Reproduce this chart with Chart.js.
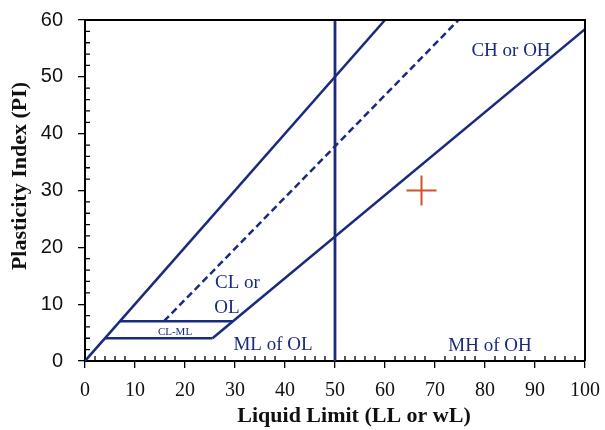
<!DOCTYPE html>
<html>
<head>
<meta charset="utf-8">
<script src="https://cdn.jsdelivr.net/npm/chart.js@4.4.1/dist/chart.umd.min.js"></script>
<style>
  html, body { margin: 0; padding: 0; background: #fff; }
  #wrap { width: 605px; height: 430px; }
</style>
</head>
<body>
<div id="wrap"><canvas id="plasticity-chart"></canvas></div>
<script>
// plasticity chart lines (LL on x, PI on y)
const upperLL = [0, 60];
const upperPI = [0, 60];
const uLineLL = [15.8, 74.7];
const uLinePI = [7, 60];
const aLineLL = [25.5, 100];
const aLinePI = [4, 58.4];
const dividerLL = [50, 50];
const dividerPI = [0, 60];
const clmlTopLL = [7, 29.6];
const clmlTopPI = [7, 7];
const clmlBottomLL = [4, 25.5];
const clmlBottomPI = [4, 4];
const sampleLL = [67.3];
const samplePI = [30];

// zone labels, anchored in data units
const zoneNames = ['CH or OH', 'CL or', 'OL', 'CL-ML', 'ML of OL', 'MH of OH'];
const zoneLL = [85.2, 30.5, 28.4, 18, 37.6, 81];
const zonePI = [54.6, 13.7, 9.4, 5.1, 2.9, 2.6];

const xTicks = [0, 10, 20, 30, 40, 50, 60, 70, 80, 90, 100];
const yTicks = [0, 10, 20, 30, 40, 50, 60];

const navy = '#1a2a7c';

function pts(xs, ys) {
  return xs.map((x, i) => ({ x: x, y: ys[i] }));
}

function lineSet(xs, ys, dash) {
  return {
    data: pts(xs, ys),
    showLine: true,
    borderColor: navy,
    borderWidth: 2.5,
    borderDash: dash || [],
    pointRadius: 0,
    fill: false
  };
}

const extras = {
  id: 'extras',
  afterDraw(chart) {
    const ctx = chart.ctx;
    const xs = chart.scales.x;
    const ys = chart.scales.y;
    const area = chart.chartArea;
    ctx.save();

    // minor ticks pointing inward
    ctx.strokeStyle = '#000';
    ctx.lineWidth = 1.3;
    ctx.beginPath();
    for (let v = 2; v < 100; v += 2) {
      if (v % 10 === 0) continue;
      const px = xs.getPixelForValue(v);
      ctx.moveTo(px, area.bottom);
      ctx.lineTo(px, area.bottom - 5);
    }
    for (let v = 2; v < 60; v += 2) {
      if (v % 10 === 0) continue;
      const py = ys.getPixelForValue(v);
      ctx.moveTo(area.left, py);
      ctx.lineTo(area.left + 5, py);
    }
    ctx.stroke();

    // top and right frame
    ctx.lineWidth = 2;
    ctx.beginPath();
    ctx.moveTo(area.left, area.top);
    ctx.lineTo(area.right, area.top);
    ctx.lineTo(area.right, area.bottom);
    ctx.stroke();

    // zone labels
    ctx.fillStyle = navy;
    ctx.textAlign = 'center';
    ctx.textBaseline = 'middle';
    zoneNames.forEach((name, i) => {
      ctx.font = name === 'CL-ML' ? '11px "Liberation Serif"' : '19px "Liberation Serif"';
      ctx.fillText(name, xs.getPixelForValue(zoneLL[i]), ys.getPixelForValue(zonePI[i]));
    });

    // axis titles
    ctx.fillStyle = '#111';
    ctx.font = 'bold 22px "Liberation Serif"';
    ctx.fillText('Liquid Limit (LL or wL)', 354, 416);
    ctx.translate(20, 176);
    ctx.rotate(-Math.PI / 2);
    ctx.fillText('Plasticity Index (PI)', 0, 0);
    ctx.restore();
  }
};

new Chart(document.getElementById('plasticity-chart'), {
  type: 'scatter',
  data: {
    datasets: [
      lineSet(upperLL, upperPI),
      lineSet(uLineLL, uLinePI, [7, 4]),
      lineSet(aLineLL, aLinePI),
      Object.assign(lineSet(dividerLL, dividerPI), { borderWidth: 2.8 }),
      lineSet(clmlTopLL, clmlTopPI),
      lineSet(clmlBottomLL, clmlBottomPI),
      {
        data: pts(sampleLL, samplePI),
        pointStyle: 'cross',
        pointRadius: 15,
        pointBorderColor: '#d4502a',
        pointBorderWidth: 2,
        showLine: false
      }
    ]
  },
  options: {
    responsive: true,
    maintainAspectRatio: false,
    animation: false,
    layout: { padding: { top: 20, right: 20, left: 0, bottom: 0 } },
    plugins: {
      legend: { display: false },
      tooltip: { enabled: false }
    },
    scales: {
      x: {
        type: 'linear',
        min: 0,
        max: 100,
        afterFit(scale) {
          scale.height = 69;
          scale.paddingLeft = 0;
          scale.paddingRight = 0;
        },
        afterBuildTicks(scale) { scale.ticks = xTicks.map(v => ({ value: v })); },
        ticks: {
          color: '#111',
          padding: 11,
          font: { family: 'Liberation Serif', size: 20 }
        },
        grid: { drawOnChartArea: false, tickLength: 7, color: '#000', lineWidth: 1.3 },
        border: { color: '#000', width: 2 }
      },
      y: {
        type: 'linear',
        min: 0,
        max: 60,
        afterFit(scale) {
          scale.width = 85;
          scale.paddingTop = 0;
          scale.paddingBottom = 0;
        },
        afterBuildTicks(scale) { scale.ticks = yTicks.map(v => ({ value: v })); },
        ticks: {
          color: '#111',
          padding: 15,
          font: { family: 'Liberation Sans', size: 20 }
        },
        grid: { drawOnChartArea: false, tickLength: 7, color: '#000', lineWidth: 1.3 },
        border: { color: '#000', width: 2 }
      }
    }
  },
  plugins: [extras]
});
</script>
</body>
</html>
